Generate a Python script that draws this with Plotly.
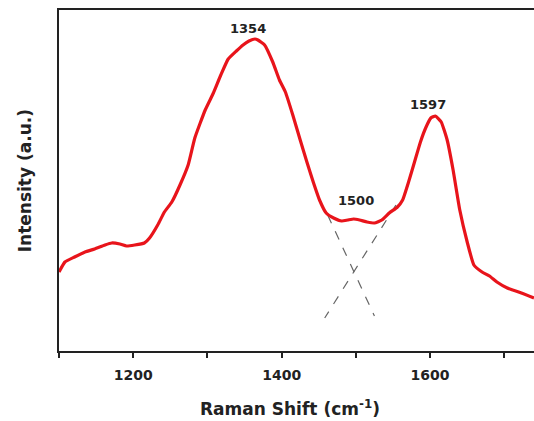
import plotly.graph_objects as go

# Raman shift (cm^-1) and intensity (a.u., arbitrary scale)
shift = [1100, 1108, 1121, 1135, 1148, 1162, 1171, 1182, 1191, 1202, 1215, 1222,
         1233, 1242, 1252, 1263, 1274, 1283, 1297, 1308, 1318, 1328, 1339, 1348,
         1356, 1364, 1368, 1377, 1388, 1397, 1405, 1415, 1425, 1434, 1443, 1451,
         1460, 1470, 1481, 1489, 1497, 1505, 1515, 1525, 1535, 1545, 1556, 1563,
         1571, 1579, 1587, 1594, 1601, 1607, 1615, 1623, 1631, 1640, 1650, 1659,
         1670, 1680, 1690, 1704, 1723, 1740]
intensity = [79, 89, 94, 99, 102, 106, 108, 107, 105, 106, 108, 113,
             126, 139, 149, 166, 186, 213, 241, 258, 276, 292, 300, 306,
             310, 312, 311, 306, 289, 271, 259, 236, 211, 189, 168, 151,
             138, 133, 130, 131, 132, 131, 129, 128, 131, 138, 144, 151,
             169, 189, 209, 223, 233, 235, 229, 211, 181, 141, 109, 86,
             79, 75, 69, 63, 58, 53]

# Baseline-fit dashed lines (two straight segments crossing below the 1500 valley)
dash1_x = [1462, 1525]
dash1_y = [136, 35]
dash2_x = [1554, 1458]
dash2_y = [146, 33]

peak_x = [1354, 1500, 1597]
peak_y = [323, 151, 247]
peak_labels = ["1354", "1500", "1597"]

fig = go.Figure()
fig.add_trace(go.Scatter(x=dash1_x, y=dash1_y, mode="lines",
                         line=dict(color="#666666", width=1.2, dash="dash"),
                         showlegend=False, hoverinfo="skip"))
fig.add_trace(go.Scatter(x=dash2_x, y=dash2_y, mode="lines",
                         line=dict(color="#666666", width=1.2, dash="dash"),
                         showlegend=False, hoverinfo="skip"))
fig.add_trace(go.Scatter(x=shift, y=intensity, mode="lines",
                         line=dict(color="#e8141b", width=3.2, shape="spline", smoothing=0.4),
                         showlegend=False))

for px, py, t in zip(peak_x, peak_y, peak_labels):
    fig.add_annotation(x=px, y=py, text="<b>" + t + "</b>", showarrow=False,
                       font=dict(size=13, color="#222222"))

fig.add_annotation(xref="paper", yref="paper", x=-0.072, y=0.5,
                   xanchor="center", yanchor="middle",
                   text="<b>Intensity (a.u.)</b>", textangle=-90, showarrow=False,
                   font=dict(size=17, color="#222222"))
fig.add_annotation(xref="paper", yref="paper", x=0.486, y=-0.167,
                   xanchor="center", yanchor="middle",
                   text="<b>Raman Shift (cm<sup>-1</sup>)</b>", showarrow=False,
                   font=dict(size=17, color="#222222"))

tickvals = [1100, 1200, 1300, 1400, 1500, 1600, 1700]
ticktext = ["", "<b>1200</b>", "", "<b>1400</b>", "", "<b>1600</b>", ""]

fig.update_layout(
    width=534, height=421,
    margin=dict(l=59, r=0, t=10, b=70, autoexpand=False),
    paper_bgcolor="white", plot_bgcolor="white",
    font=dict(family="DejaVu Sans, sans-serif", color="#222222"),
    xaxis=dict(range=[1100, 1740], tickvals=tickvals, ticktext=ticktext,
               ticks="outside", ticklen=5, tickwidth=1.5, tickcolor="#222222",
               showline=True, linecolor="#222222", linewidth=2, mirror=True,
               showgrid=False, zeroline=False, tickfont=dict(size=14),
               ticklabelstandoff=5, automargin=False),
    yaxis=dict(range=[0, 341], showticklabels=False, ticks="",
               showline=True, linecolor="#222222", linewidth=2,
               showgrid=False, zeroline=False, automargin=False),
)

fig.write_html("out.html", config={"displayModeBar": False},
               post_script="document.body.style.margin='0';document.body.style.overflow='hidden';")
